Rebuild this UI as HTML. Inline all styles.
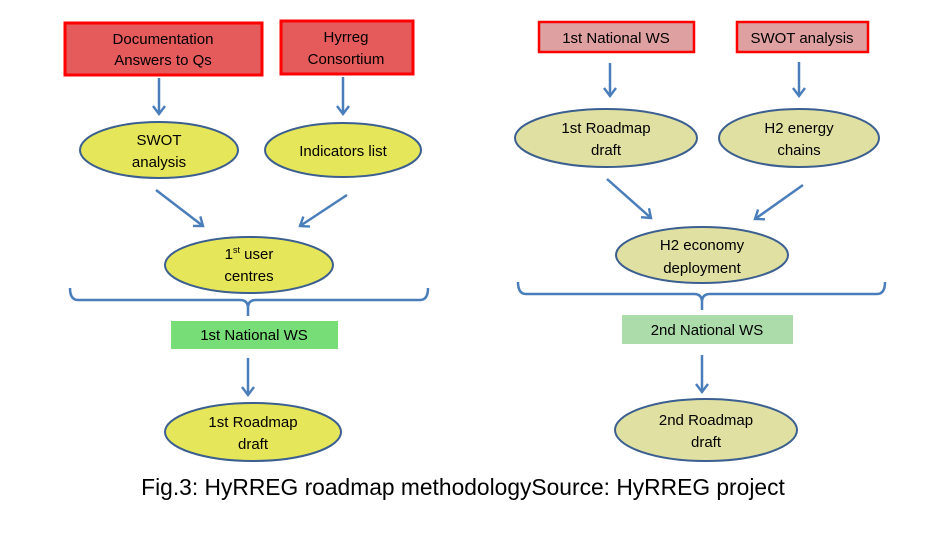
<!DOCTYPE html>
<html><head><meta charset="utf-8"><style>
html,body{margin:0;padding:0;background:#fff;}
svg text{font-family:"Liberation Sans",sans-serif;}
</style></head><body>
<svg width="928" height="542" viewBox="0 0 928 542" xmlns="http://www.w3.org/2000/svg">
<defs>
<marker id="a" markerWidth="14" markerHeight="14" refX="9" refY="7" orient="auto" markerUnits="userSpaceOnUse">
<path d="M1,1 L9,7 L1,13" fill="none" stroke="#4a7ebb" stroke-width="2.4"/>
</marker>
</defs>
<g stroke="#4a7ebb" stroke-width="2.5" fill="none" marker-end="url(#a)">
<line x1="159" y1="78" x2="159" y2="114"/>
<line x1="343" y1="77" x2="343" y2="114"/>
<line x1="156" y1="190" x2="203" y2="226"/>
<line x1="347" y1="195" x2="300" y2="226"/>
<line x1="248" y1="358" x2="248" y2="395"/>
<line x1="610" y1="63" x2="610" y2="96"/>
<line x1="799" y1="62" x2="799" y2="96"/>
<line x1="607" y1="179" x2="651" y2="218"/>
<line x1="803" y1="185" x2="755" y2="219"/>
<line x1="702" y1="355" x2="702" y2="392"/>
</g>
<g stroke="#4a7ebb" stroke-width="2.5" fill="none">
<path d="M70,288 Q70,300 78,300 L240,300 Q248,300 248,308 L248,316 M248,308 Q248,300 256,300 L420,300 Q428,300 428,288"/>
<path d="M518,282 Q518,294 526,294 L694,294 Q702,294 702,302 L702,310 M702,302 Q702,294 710,294 L877,294 Q885,294 885,282"/>
</g>
<g font-size="15" fill="#000" text-anchor="middle">
<rect x="65" y="23" width="197" height="52" fill="#e55a5a" stroke="#f00" stroke-width="3"/>
<text x="163" y="44">Documentation</text><text x="163" y="65">Answers to Qs</text>
<rect x="281" y="21" width="132" height="53" fill="#e55a5a" stroke="#f00" stroke-width="3"/>
<text x="346" y="42">Hyrreg</text><text x="346" y="64">Consortium</text>
<g fill="#e6e65a" stroke="#3b5f8f" stroke-width="2">
<ellipse cx="159" cy="150" rx="79" ry="28"/>
<ellipse cx="343" cy="150" rx="78" ry="27"/>
<ellipse cx="249" cy="265" rx="84" ry="28"/>
<ellipse cx="253" cy="432" rx="88" ry="29"/>
</g>
<text x="159" y="145">SWOT</text><text x="159" y="167">analysis</text>
<text x="343" y="156">Indicators list</text>
<text x="249" y="259">1<tspan font-size="9" dy="-6">st</tspan><tspan dy="6"> user</tspan></text><text x="249" y="281">centres</text>
<text x="253" y="427">1st Roadmap</text><text x="253" y="449">draft</text>
<rect x="171" y="321" width="167" height="28" fill="#77dd77"/>
<text x="254" y="340">1st National WS</text>

<rect x="539" y="22" width="155" height="30" fill="#dea0a0" stroke="#f00" stroke-width="2.5"/>
<text x="616" y="43">1st National WS</text>
<rect x="737" y="22" width="131" height="30" fill="#dea0a0" stroke="#f00" stroke-width="2.5"/>
<text x="802" y="43">SWOT analysis</text>
<g fill="#e0e0a2" stroke="#3b5f8f" stroke-width="2">
<ellipse cx="606" cy="138" rx="91" ry="29"/>
<ellipse cx="799" cy="138" rx="80" ry="29"/>
<ellipse cx="702" cy="255" rx="86" ry="28"/>
<ellipse cx="706" cy="430" rx="91" ry="31"/>
</g>
<text x="606" y="133">1st Roadmap</text><text x="606" y="155">draft</text>
<text x="799" y="133">H2 energy</text><text x="799" y="155">chains</text>
<text x="702" y="250">H2 economy</text><text x="702" y="273">deployment</text>
<text x="706" y="425">2nd Roadmap</text><text x="706" y="447">draft</text>
<rect x="622" y="315" width="171" height="29" fill="#acdcaa"/>
<text x="707" y="335">2nd National WS</text>
</g>
<text x="463" y="495" font-size="22.8" text-anchor="middle" fill="#000">Fig.3: HyRREG roadmap methodologySource: HyRREG project</text>
</svg>
</body></html>
